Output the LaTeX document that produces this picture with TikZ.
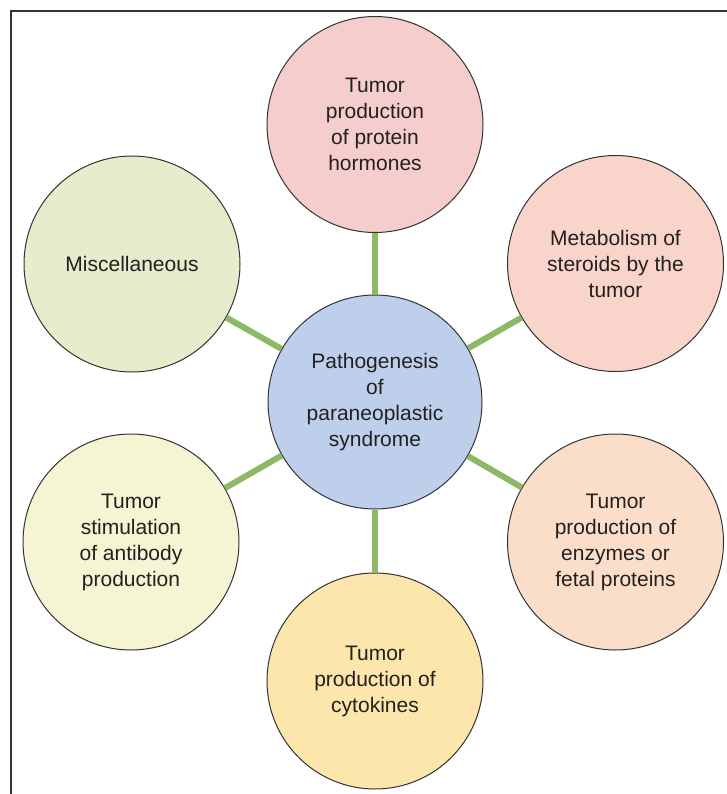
\documentclass[tikz,border=0pt]{standalone}
\usepackage{fontspec}
\setmainfont{Liberation Sans}
\definecolor{linkgreen}{RGB}{141,185,103}
\definecolor{cCenter}{RGB}{189,207,235}
\definecolor{cTop}{RGB}{245,205,205}
\definecolor{cTR}{RGB}{249,212,202}
\definecolor{cBR}{RGB}{251,222,202}
\definecolor{cBot}{RGB}{252,230,172}
\definecolor{cBL}{RGB}{245,245,212}
\definecolor{cTL}{RGB}{229,237,205}
\definecolor{txt}{RGB}{35,32,32}
\begin{document}
\begin{tikzpicture}[x=1pt,y=-1pt,
  bub/.style={circle, draw=black!80, line width=1pt, minimum size=216pt, inner sep=0pt, align=center, font=\fontsize{21}{26}\selectfont, text=txt},
  link/.style={draw=linkgreen, line width=6pt}]
\useasboundingbox (0,0) rectangle (727,794);
\fill[white] (0,0) rectangle (727,794);
\draw[line width=2pt, black!80] (727,11.5) -- (10.5,11.5) -- (10.5,794);
\node[bub, fill=cCenter, minimum size=214pt] (c) at (375,402) {Pathogenesis\\of\\paraneoplastic\\syndrome};
\node[bub, fill=cTop] (t) at (375,124.5) {Tumor\\production\\of protein\\hormones};
\node[bub, fill=cTR] (tr) at (615.5,263.5) {Metabolism of\\steroids by the\\tumor};
\node[bub, fill=cBR] (br) at (615.5,542) {Tumor\\production of\\enzymes or\\fetal proteins};
\node[bub, fill=cBot] (b) at (375,681) {Tumor\\production of\\cytokines};
\node[bub, fill=cBL] (bl) at (131,542) {Tumor\\stimulation\\of antibody\\production};
\node[bub, fill=cTL] (tl) at (132,264) {Miscellaneous};
\draw[link] (c) -- (t);
\draw[link] (c) -- (tr);
\draw[link] (c) -- (br);
\draw[link] (c) -- (b);
\draw[link] (c) -- (bl);
\draw[link] (c) -- (tl);
\end{tikzpicture}
\end{document}
